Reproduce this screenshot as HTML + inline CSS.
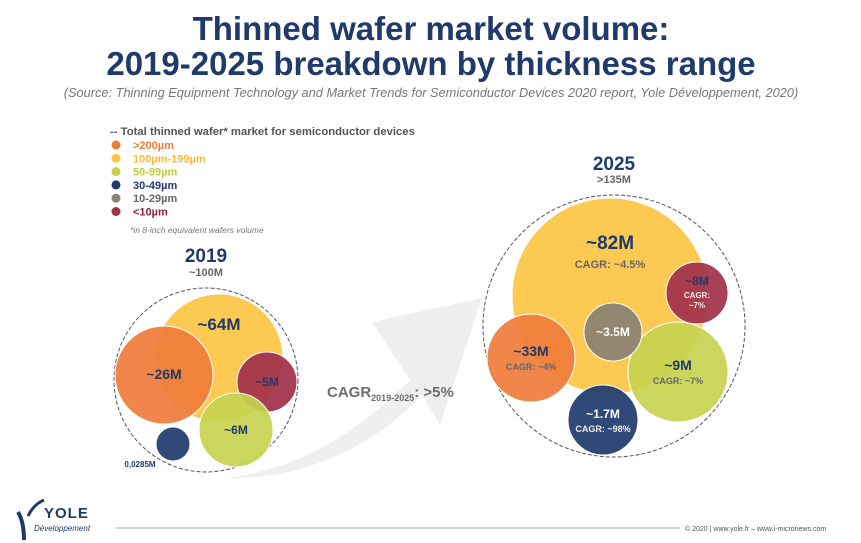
<!DOCTYPE html>
<html><head><meta charset="utf-8"><style>
html,body{margin:0;padding:0;background:#fff;}
svg{display:block;font-family:"Liberation Sans",sans-serif;}
</style></head><body>
<svg id="chart" width="861" height="543" viewBox="0 0 861 543">
<text x="431" y="40" text-anchor="middle" font-size="33" font-weight="bold" fill="#1f3a6b">Thinned wafer market volume:</text>
<text x="431" y="75" text-anchor="middle" font-size="33" font-weight="bold" fill="#1f3a6b">2019-2025 breakdown by thickness range</text>
<text x="431" y="97" text-anchor="middle" font-size="12.8" font-style="italic" fill="#777">(Source: Thinning Equipment Technology and Market Trends for Semiconductor Devices 2020 report, Yole Développement, 2020)</text>
<path d="M225,478 C300,470 360,430 410,380 L372,322 L482,298 L440,425 L422,395 C370,450 300,480 225,478 Z" fill="#efefef"/>
<g id="legend"></g>
<g id="bubbles"></g>
<text x="327" y="397" font-size="15" font-weight="bold" fill="#6d6d6d">CAGR<tspan font-size="9" dy="4">2019-2025</tspan><tspan dy="-4">: &gt;5%</tspan></text>
<g>
<path d="M18,512 Q24,522 24,540" stroke="#1f3a6b" stroke-width="4" fill="none"/>
<path d="M28,516 Q34,504 44,500" stroke="#1f3a6b" stroke-width="3" fill="none"/>
<text x="44" y="518" font-size="15" font-weight="bold" fill="#1f3a6b" letter-spacing="1">YOLE</text>
<text x="34" y="531" font-size="8" font-style="italic" fill="#1f3a6b">Développement</text>
</g>
<line x1="116" y1="528" x2="680" y2="528" stroke="#aaa" stroke-width="1"/>
<text x="685" y="531" font-size="7" fill="#555">© 2020 | www.yole.fr – www.i-micronews.com</text>
</svg>
<script>
const categories = [">200µm","100µm-199µm","50-99µm","30-49µm","10-29µm","<10µm"];
const colors = ["#ef7c3a","#fcc444","#c6d34f","#1f3a6e","#8a8272","#a1304a"];
const labelColors = ["#ef7c3a","#f4b93a","#bccb3c","#1f3a6e","#666","#8b2440"];
const values2019 = ["~26M","~64M","~6M","0,0285M",null,"~5M"];
const values2025 = ["~33M","~82M","~9M","~1.7M","~3.5M","~8M"];
const cagr2025 = ["CAGR: ~4%","CAGR: ~4.5%","CAGR: ~7%","CAGR: ~98%",null,"CAGR:|~7%"];
const totals = ["~100M",">135M"];
const years = ["2019","2025"];
const NS="http://www.w3.org/2000/svg";
function mk(tag,attrs,parent){const e=document.createElementNS(NS,tag);for(const k in attrs)e.setAttribute(k,attrs[k]);parent.appendChild(e);return e;}
const lg=document.getElementById('legend');
let t=mk('text',{x:110,y:135,'font-size':11.3,'font-weight':'bold',fill:'#555'},lg);


t.textContent='--  Total thinned wafer* market for semiconductor devices';
categories.forEach((c,i)=>{
 const y=149+i*13.3;
 const d=mk('circle',{cx:116,cy:y-4,r:4.5,fill:colors[i]},lg);
 
 
 const tx=mk('text',{x:133,y:y,'font-size':11,'font-weight':'bold',fill:labelColors[i]},lg);
 
 
 tx.textContent=c;
});
t=mk('text',{x:130,y:233,'font-size':8.5,'font-style':'italic',fill:'#777'},lg);


t.textContent='*in 8-inch equivalent wafers volume';
// layout (not data): per-category centre & radius
const layout2019=[[164,375,49],[219,358,64],[236,430,37],[173,444,17],null,[267,382,30]];
const layout2025=[[531,358,44],[610,296,98],[678,372,50],[603,420,35],[613,332,29],[697,293,31]];
const order=[1,0,5,2,3,4];
const g=document.getElementById('bubbles');
function cluster(yi,cx,cy,r,lay,vals,cag){
 const o=mk('circle',{cx:cx,cy:cy,r:r,fill:'none',stroke:'#555','stroke-dasharray':'4,2','stroke-width':1},g);
 
 
 const yt=mk('text',{x:cx,y:yi?170:262,'text-anchor':'middle','font-size':19,'font-weight':'bold',fill:'#1f3a6b'},g);
 
 
 yt.textContent=years[yi];
 const tt=mk('text',{x:cx,y:yi?183:276,'text-anchor':'middle','font-size':11,'font-weight':'bold',fill:'#666'},g);
 
 
 tt.textContent=totals[yi];
 order.forEach(i=>{
  const L=lay[i]; if(!L||vals[i]===null)return;
  const c=mk('circle',{cx:L[0],cy:L[1],r:L[2],fill:colors[i],'fill-opacity':0.92,stroke:'#fff','stroke-width':1},g);
  
  
 });
 order.forEach(i=>{
  const L=lay[i]; if(!L||vals[i]===null)return;
  const big=i===1, dark=(i===3||i===4||i===5);
  const fs=big?(yi?19:17):(L[2]>40?14:12);
  let lx=L[0], ly=L[1]+(cag&&cag[i]?-2:4);
  if(big) ly=yi?L[1]-47:L[1]-28;
  if(yi===0&&i===3){lx=140;ly=467;}
  const txt=mk('text',{x:lx,y:ly,'text-anchor':'middle','font-size':(yi===0&&i===3)?8:fs,'font-weight':'bold',fill:dark&&!(yi===0&&i===3)?'#fff':'#1f3a6b'},g);
  if(yi===0&&i===3) txt.setAttribute('fill','#1f3a6b');
  if(i===5) txt.setAttribute('fill','#1f3a6b');
  if(yi===1&&i===5) txt.setAttribute('y',L[1]-8);
  
  
  txt.textContent=vals[i];
  if(cag&&cag[i]){
   const parts=cag[i].split('|');
   parts.forEach((p,k)=>{
    const ct=mk('text',{x:L[0],y:(big?L[1]-28:(i===5?L[1]+5:L[1]+12))+k*10,'text-anchor':'middle','font-size':big?11:(i===5?8:9),'font-weight':'bold',fill:dark?'#eee':'#666'},g);
    
    
    ct.textContent=p;
   });
  }
 });
}
cluster(0,206,380,92,layout2019,values2019,null);
cluster(1,614,326,131,layout2025,values2025,cagr2025);
</script>
</body></html>
